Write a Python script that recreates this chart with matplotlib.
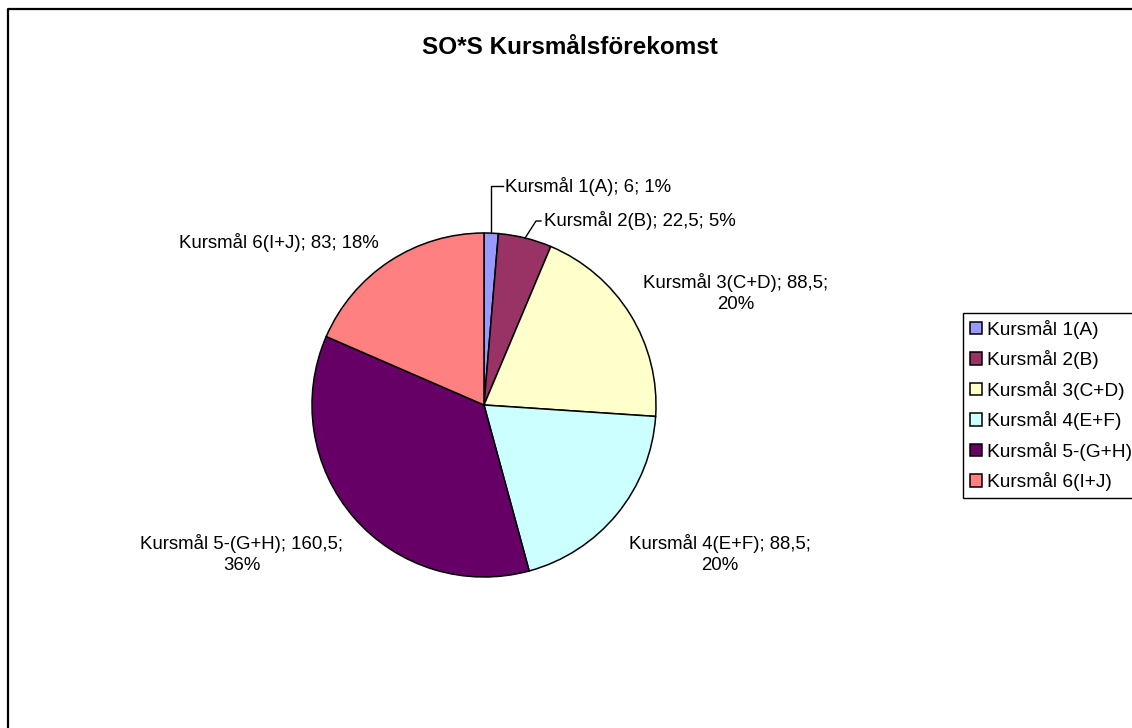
import matplotlib
matplotlib.use("Agg")
import matplotlib.pyplot as plt
from matplotlib.lines import Line2D
import numpy as np

plt.rcParams['font.family'] = ['Liberation Sans', 'DejaVu Sans']

# ---- data ----
categories = ["Kursmål 1(A)", "Kursmål 2(B)", "Kursmål 3(C+D)",
              "Kursmål 4(E+F)", "Kursmål 5-(G+H)", "Kursmål 6(I+J)"]
values = [6, 22.5, 88.5, 88.5, 160.5, 83]
colors = ["#9999FF", "#993366", "#FFFFCC", "#CCFFFF", "#660066", "#FF8080"]
title = "SO*S Kursmålsförekomst"

W, H = 1132, 728
fig = plt.figure(figsize=(W / 100, H / 100), dpi=100)
fig.patch.set_facecolor("white")

CX, CY, R = 484, 405, 172
ax = fig.add_axes([(CX - R) / W, (H - CY - R) / H, 2 * R / W, 2 * R / H])

wedges, _ = ax.pie(values, colors=colors, startangle=90, counterclock=False,
                   radius=1, wedgeprops=dict(edgecolor="black", linewidth=1.1))
ax.set_xlim(-1, 1)
ax.set_ylim(-1, 1)
ax.set_aspect("auto")
ax.axis("off")


def P(px, py):
    return ((px - CX) / R, (CY - py) / R)


total = sum(values)


def fmt(v):
    return ("%g" % v).replace(".", ",")


def lab(i, sep=" "):
    return "%s; %s;%s%d%%" % (categories[i], fmt(values[i]), sep, round(values[i] / total * 100))


# mid-angles of wedges
cum = np.cumsum([0] + values)
mids = [90 - (cum[i] + values[i] / 2) / total * 360 for i in range(len(values))]
edge = [(np.cos(np.radians(a)), np.sin(np.radians(a))) for a in mids]

fs = 13.4
# Label 1 with leader
x, y = P(505, 186)
ax.text(x, y, lab(0), ha="left", va="center", fontsize=fs)
hx, hy = P(503, 186)
ax.plot([hx, edge[0][0], edge[0][0]], [hy, hy, edge[0][1]], color="black", lw=1.0, clip_on=False)

# Label 2 with leader
x, y = P(544, 221)
ax.text(x, y, lab(1), ha="left", va="center", fontsize=fs)
hx, hy = P(541, 221)
kx, _ = P(536, 221)
ax.plot([hx, kx, edge[1][0]], [hy, hy, edge[1][1]], color="black", lw=1.0, clip_on=False)

# Label 3
x, y = P(736, 293)
ax.text(x, y, lab(2, "\n"), ha="center", va="center", fontsize=fs, linespacing=1.3)
# Label 4
x, y = P(720, 554)
ax.text(x, y, lab(3, "\n"), ha="center", va="center", fontsize=fs, linespacing=1.3)
# Label 5
x, y = P(242, 554)
ax.text(x, y, lab(4, "\n"), ha="center", va="center", fontsize=fs, linespacing=1.3)
# Label 6
x, y = P(279, 242)
ax.text(x, y, lab(5), ha="center", va="center", fontsize=fs)

# Title
fig.text(570 / W, 1 - 48 / H, title, ha="center", va="center",
         fontsize=17.5, fontweight="bold")

# Chart border (right/bottom cropped)
fig.add_artist(Line2D([8 / W, 8 / W, 1.05], [-0.05, 1 - 9 / H, 1 - 9 / H],
                      transform=fig.transFigure, color="black", lw=1.6))

# Legend
leg = ax.legend(wedges, categories, loc="upper left",
                bbox_to_anchor=(963 / W, 1 - 313 / H), bbox_transform=fig.transFigure,
                frameon=True, fancybox=False, edgecolor="black", framealpha=1,
                borderpad=0.35, borderaxespad=0, handlelength=0.65, handleheight=0.65,
                handletextpad=0.25, labelspacing=0.6, fontsize=13.8)
leg.get_frame().set_linewidth(1.0)

fig.savefig("out.png", dpi=100)
